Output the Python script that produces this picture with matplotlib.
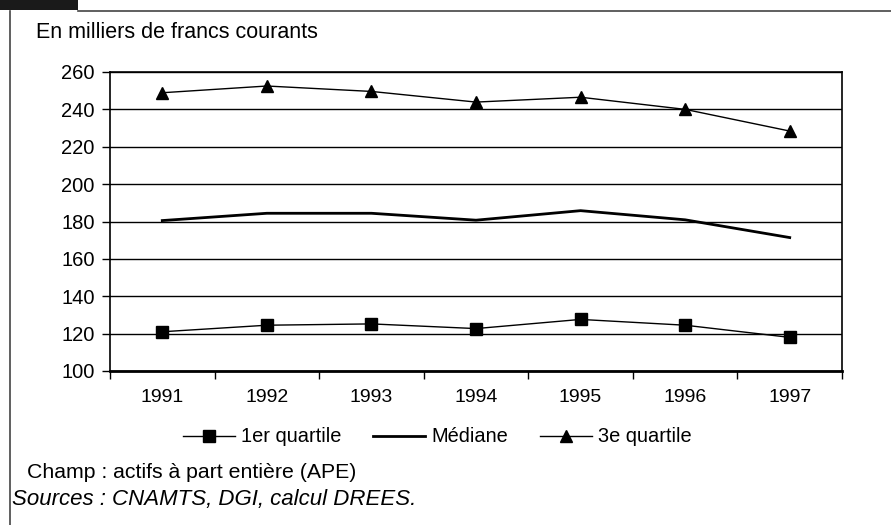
import matplotlib
matplotlib.use("Agg")
import matplotlib.pyplot as plt
from matplotlib.lines import Line2D
from matplotlib.patches import Rectangle
import numpy as np

plt.rcParams['font.family'] = ['Liberation Sans', 'DejaVu Sans']

years = ['1991', '1992', '1993', '1994', '1995', '1996', '1997']
q1 = [121, 124.5, 125.2, 122.7, 127.6, 124.5, 118]
mediane = [180.5, 184.4, 184.4, 180.7, 185.8, 180.9, 171.4]
q3 = [248.9, 252.5, 249.6, 243.9, 246.5, 240, 228.4]
labels = ['1er quartile', 'Médiane', '3e quartile']
yticks = [100, 120, 140, 160, 180, 200, 220, 240, 260]

W, H = 891, 525
fig = plt.figure(figsize=(W / 100, H / 100), dpi=100)

def fx(px):
    return px / W

def fy(py):
    return 1 - py / H

ax = fig.add_axes([fx(110), fy(371), fx(842) - fx(110), fy(72) - fy(371)])
x = np.arange(len(years))

ax.plot(x, q1, color='black', lw=1.0, marker='s', ms=9, mfc='black', mec='black', label=labels[0], zorder=3)
ax.plot(x, mediane, color='black', lw=2.0, label=labels[1], zorder=3)
ax.plot(x, q3, color='black', lw=1.0, marker='^', ms=9, mfc='black', mec='black', label=labels[2], zorder=3)

ax.set_xlim(-0.5, len(years) - 0.5)
ax.set_ylim(yticks[0], yticks[-1])
ax.set_yticks(yticks)
ax.set_yticklabels([str(v) for v in yticks])
ax.yaxis.grid(True, color='black', lw=1.0)
ax.set_axisbelow(True)

ax.set_xticks(x)
ax.set_xticklabels(years)
ax.set_xticks(np.arange(-0.5, len(years)), minor=True)
ax.tick_params(axis='x', which='major', length=0, pad=13, labelsize=14)
ax.tick_params(axis='x', which='minor', length=6, width=1.0, direction='out', color='black')
ax.tick_params(axis='y', which='major', length=6, width=1.0, direction='out', pad=5, labelsize=14.5)

for side in ['left', 'right', 'top']:
    ax.spines[side].set_color('black')
    ax.spines[side].set_linewidth(1.2)
ax.spines['bottom'].set_color('black')
ax.spines['bottom'].set_linewidth(2.0)

fig.legend(loc='center', bbox_to_anchor=(fx(437), fy(437)), ncol=3, frameon=False,
           fontsize=14.4, handlelength=2.6, handletextpad=0.3, columnspacing=1.6)

fig.text(fx(36), fy(33), 'En milliers de francs courants', fontsize=15.5, va='center', ha='left')
fig.text(fx(27), fy(472), 'Champ : actifs à part entière (APE)', fontsize=15.3, va='center', ha='left')
fig.text(fx(12), fy(500), 'Sources : CNAMTS, DGI, calcul DREES.', fontsize=16, va='center', ha='left', style='italic')

# frame decorations
fig.patches.append(Rectangle((0, fy(10)), fx(78), 1 - fy(10), transform=fig.transFigure,
                             facecolor='#1a1a1a', edgecolor='none'))
fig.lines.append(Line2D([fx(78), 1], [fy(11), fy(11)], transform=fig.transFigure, color='#444444', lw=1.2))
fig.lines.append(Line2D([fx(10), fx(10)], [fy(11), 0], transform=fig.transFigure, color='#444444', lw=1.2))

fig.savefig('out.png', dpi=100)
